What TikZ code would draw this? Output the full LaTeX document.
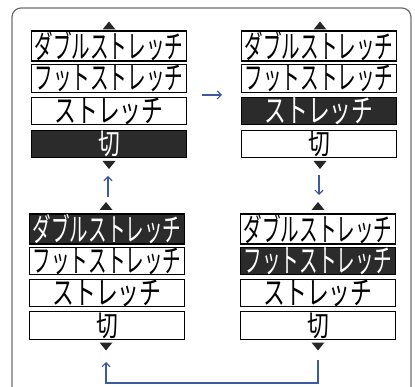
\documentclass[tikz,border=0pt]{standalone}
\usepackage{fontspec}
\newfontfamily\jp{Noto Sans CJK JP}
\usetikzlibrary{arrows.meta}
\definecolor{selbg}{HTML}{2B2B2B}
\definecolor{arrowblue}{HTML}{3C5AA0}
\definecolor{framegray}{HTML}{6E6E6E}
\newcommand\sx[2]{\scalebox{#1}[1]{#2}}
\newcommand\dbl{\sx{0.58}{\fontsize{32}{32}\selectfont ダブルストレッチ}}
\newcommand\fut{\sx{0.58}{\fontsize{32}{32}\selectfont フットストレッチ}}
\newcommand\str{\sx{0.68}{\fontsize{32}{32}\selectfont ストレッチ}}
\newcommand\kir{\sx{0.75}{\fontsize{29}{29}\selectfont 切}}
\begin{document}
\begin{tikzpicture}[x=1pt,y=-1pt,
  item/.style={draw=black, line width=1.2pt, fill=white, text=black,
    minimum width=155pt, minimum height=27.5pt, inner sep=0pt,
    font=\jp},
  sel/.style={fill=selbg, text=white},
  tri/.style={fill=black!85},
  flow/.style={draw=arrowblue, line width=1.1pt, -{Straight Barb[length=4pt,width=8pt]}},
  frame/.style={draw=framegray, line width=1.2pt, rounded corners=9pt}]
\useasboundingbox (0,0) rectangle (415,387);
\clip (0,0) rectangle (415,387);
\draw[frame] (12,8) rectangle (411,410);

% top-left panel
\node[item] (tl1) at (109,46) {\dbl};
\node[item] (tl2) at (109,78.5) {\fut};
\node[item] (tl3) at (109,111) {\str};
\node[item,sel] (tl4) at (109,144) {\kir};
\coordinate (tlup) at (109,25.5);
\coordinate (tldn) at (109,165);

% top-right panel
\node[item] (tr1) at (319,46) {\dbl};
\node[item] (tr2) at (319,78.5) {\fut};
\node[item,sel] (tr3) at (319,111) {\str};
\node[item] (tr4) at (319,144) {\kir};
\coordinate (trup) at (320,25.5);
\coordinate (trdn) at (320,165);

% bottom-left panel
\node[item,sel] (bl1) at (107,229) {\dbl};
\node[item] (bl2) at (107,261) {\fut};
\node[item] (bl3) at (107,293) {\str};
\node[item] (bl4) at (107,325.5) {\kir};
\coordinate (blup) at (106,206);
\coordinate (bldn) at (106,346.5);

% bottom-right panel
\node[item] (br1) at (318,229) {\dbl};
\node[item,sel] (br2) at (318,261) {\fut};
\node[item] (br3) at (318,293) {\str};
\node[item] (br4) at (318,325.5) {\kir};
\coordinate (brup) at (318,206);
\coordinate (brdn) at (318,346.5);

% scroll triangles
\foreach \c in {tlup,trup,blup,brup}
  \fill[tri] (\c) ++(-6.5,4) -- ++(13,0) -- ++(-6.5,-8) -- cycle;
\foreach \c in {tldn,trdn,bldn,brdn}
  \fill[tri] (\c) ++(-6.5,-4) -- ++(13,0) -- ++(-6.5,8) -- cycle;

% transitions
\coordinate (rA) at (202,95);
\coordinate (rB) at (222,95);
\coordinate (dA) at (319,175);
\coordinate (dB) at (319,195);
\coordinate (uA) at (108,197);
\coordinate (uB) at (108,176);
\coordinate (lA) at (318,360);
\coordinate (lB) at (106,362);
\draw[flow] (rA) -- (rB);
\draw[flow] (dA) -- (dB);
\draw[flow] (uA) -- (uB);
\draw[flow] (lA) -- ++(0,23) -| (lB);
\end{tikzpicture}
\end{document}
